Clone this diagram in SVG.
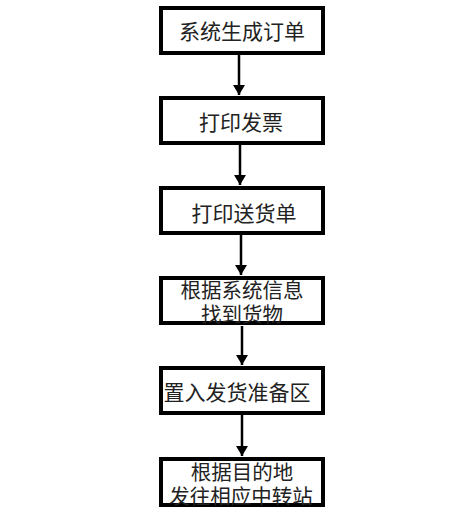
<svg xmlns="http://www.w3.org/2000/svg" width="472" height="522" viewBox="0 0 472 522">
<style>
.box{fill:#fff;stroke:#000;stroke-width:4}
.t{font-family:"Noto Sans CJK SC","Noto Sans",sans-serif;font-size:21px;fill:#222;text-anchor:middle;dominant-baseline:central}
.t2{font-size:20.5px}
.c{stroke:#000;stroke-width:2.5;fill:none;marker-end:url(#ah)}
</style>
<defs>
<marker id="ah" markerWidth="12" markerHeight="12" refX="10" refY="6" orient="auto" markerUnits="userSpaceOnUse">
<path d="M0,0 L10,6 L0,12 Z" fill="#000"/>
</marker>
</defs>
<rect width="472" height="522" fill="#fff"/>
<g id="connectors">
<line class="c" x1="239" y1="55" x2="239" y2="95"/>
<line class="c" x1="240" y1="145" x2="240" y2="185"/>
<line class="c" x1="241" y1="235" x2="241" y2="275"/>
<line class="c" x1="242" y1="326" x2="242" y2="365"/>
<line class="c" x1="242" y1="415" x2="242" y2="456"/>
</g>
<g id="n1"><rect class="box" x="161" y="8" width="162" height="45"/><text class="t" x="242" y="30">系统生成订单</text></g>
<g id="n2"><rect class="box" x="161" y="98" width="162" height="45"/><text class="t" x="241" y="121">打印发票</text></g>
<g id="n3"><rect class="box" x="161" y="188" width="162" height="45"/><text class="t" x="244" y="212">打印送货单</text></g>
<g id="n4"><rect class="box" x="161" y="278" width="162" height="45"/><text class="t t2" x="242" y="289">根据系统信息</text><text class="t t2" x="242" y="313">找到货物</text></g>
<g id="n5"><rect class="box" x="161" y="368" width="162" height="45"/><text class="t" x="237" y="391">置入发货准备区</text></g>
<g id="n6"><rect class="box" x="161" y="459" width="162" height="46"/><text class="t t2" x="242" y="471">根据目的地</text><text class="t t2" x="241" y="495">发往相应中转站</text></g>
</svg>
